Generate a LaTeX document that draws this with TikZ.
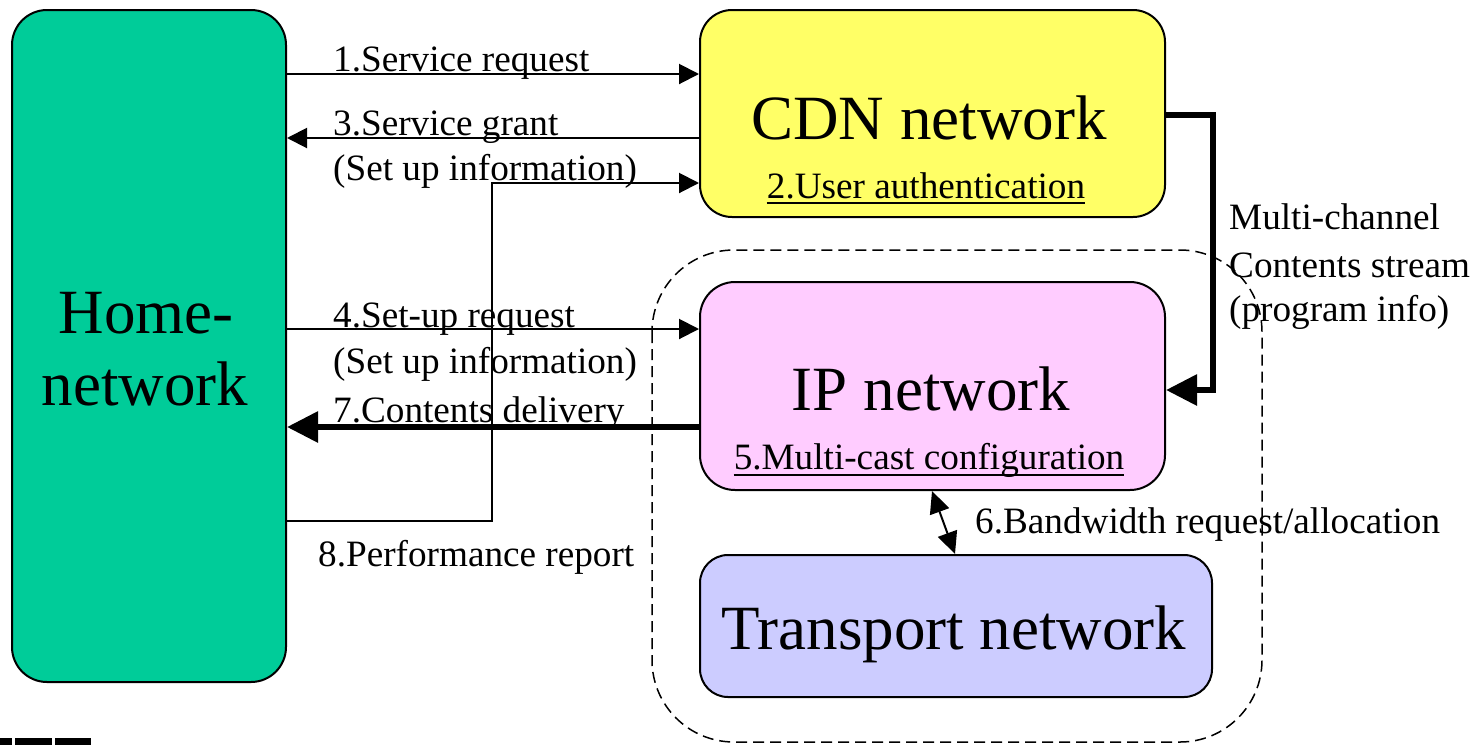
\documentclass[tikz,border=0pt]{standalone}
\usepackage{fontspec}
\setmainfont{Liberation Serif}
\usetikzlibrary{arrows.meta}
\definecolor{homegreen}{HTML}{00CC99}
\definecolor{cdnyellow}{HTML}{FFFF66}
\definecolor{ippink}{HTML}{FFCCFF}
\definecolor{transblue}{HTML}{CCCCFF}
\begin{document}
\begin{tikzpicture}[x=1pt,y=-1pt,
  netbox/.style={draw=black, line width=2pt, rounded corners=#1, inner sep=0pt},
  bigtxt/.style={font=\fontsize{63pt}{70pt}\selectfont, inner sep=0pt, anchor=base},
  lbl/.style={font=\fontsize{37.2pt}{46pt}\selectfont, inner sep=0pt, anchor=base west},
  midlbl/.style={font=\fontsize{37.2pt}{46pt}\selectfont, inner sep=0pt, anchor=base},
  thinarrow/.style={line width=2pt, -{Triangle[length=20pt,width=20pt]}},
  thickarrow/.style={line width=6pt, -{Triangle[length=31pt,width=30pt]}},
  bothways/.style={line width=2pt, {Triangle[length=22pt,width=20pt]}-{Triangle[length=22pt,width=20pt]}},
  uline/.style={line width=1.5pt}
]
\useasboundingbox (0,0) rectangle (1474,745);

% domain enclosing the IP and transport networks
\draw[dash pattern=on 11pt off 6pt, line width=1.5pt, rounded corners=82pt]
  (652,250) rectangle (1262,742);

% network boxes
\node[netbox=35pt, fill=homegreen, minimum width=274pt, minimum height=672pt] (home) at (149,346) {};
\node[netbox=32pt, fill=cdnyellow, minimum width=465pt, minimum height=207pt] (cdn) at (932.5,113.5) {};
\node[netbox=35pt, fill=ippink, minimum width=465pt, minimum height=208pt] (ip) at (932.5,386) {};
\node[netbox=28pt, fill=transblue, minimum width=512pt, minimum height=142pt] (tn) at (956,626) {};

% box titles
\node[bigtxt] (homet1) at (146,333) {Home-};
\node[bigtxt] (homet2) at (145,405) {network};
\node[bigtxt] (cdnt) at (929,139) {CDN network};
\node[bigtxt] (ipt) at (931,410) {IP network};
\node[bigtxt] (tnt) at (954,649) {Transport network};

% in-box steps, underlined
\node[midlbl] (auth) at (926,198) {2.User authentication};
\draw[uline] ([yshift=-5pt]auth.base west) -- ([yshift=-5pt]auth.base east);
\node[midlbl] (mcast) at (929,469) {5.Multi-cast configuration};
\draw[uline] ([yshift=-6pt]mcast.base west) -- ([yshift=-6pt]mcast.base east);

% levels of the message arrows
\coordinate (y1) at (0,74);
\coordinate (y3) at (0,138);
\coordinate (y8a) at (0,183);
\coordinate (y4) at (0,329);
\coordinate (y7) at (0,427);
\coordinate (y8b) at (0,521);
\coordinate (ycs) at (0,115);
\coordinate (yci) at (0,390);
\coordinate (x8) at (492,0);
\coordinate (xcs) at (1213,0);

% messages between home network and providers
\draw[thinarrow] (home.east |- y1) -- (cdn.west |- y1);
\draw[thinarrow] (cdn.west |- y3) -- (home.east |- y3);
\draw[thinarrow] (home.east |- y4) -- (ip.west |- y4);
\draw[thickarrow] (ip.west |- y7) -- (home.east |- y7);
\draw[thinarrow] (home.east |- y8b) -- (x8 |- y8b) -- (x8 |- y8a) -- (cdn.west |- y8a);

% multi-channel stream from CDN to IP network
\draw[thickarrow] (cdn.east |- ycs) -- (xcs |- ycs) -- (xcs |- yci) -- (ip.east |- yci);

% bandwidth request between IP and transport networks
\coordinate (bwtop) at (932,491);
\coordinate (bwbot) at (955,554);
\draw[bothways] (bwtop) -- (bwbot);

% message labels
\node[lbl] (m1) at (333,71) {1.Service request};
\node[lbl] (m3) at (333,135) {3.Service grant};
\node[lbl] (m3b) at (333,180) {(Set up information)};
\node[lbl] (m4) at (333,327) {4.Set-up request};
\node[lbl] (m4b) at (333,373) {(Set up information)};
\node[lbl] (m7) at (333,422) {7.Contents delivery};
\node[lbl] (m8) at (318,566) {8.Performance report};
\node[lbl] (m6) at (975,533) {6.Bandwidth request/allocation};
\node[lbl] (mc1) at (1229,229) {Multi-channel};
\node[lbl] (mc2) at (1229,277) {Contents stream};
\node[lbl] (mc3) at (1229,321) {(program info)};

% marks along the lower edge
\fill (0,738) rectangle (12,745);
\fill (15,738) rectangle (52,745);
\fill (55,738) rectangle (91,745);
\end{tikzpicture}
\end{document}
